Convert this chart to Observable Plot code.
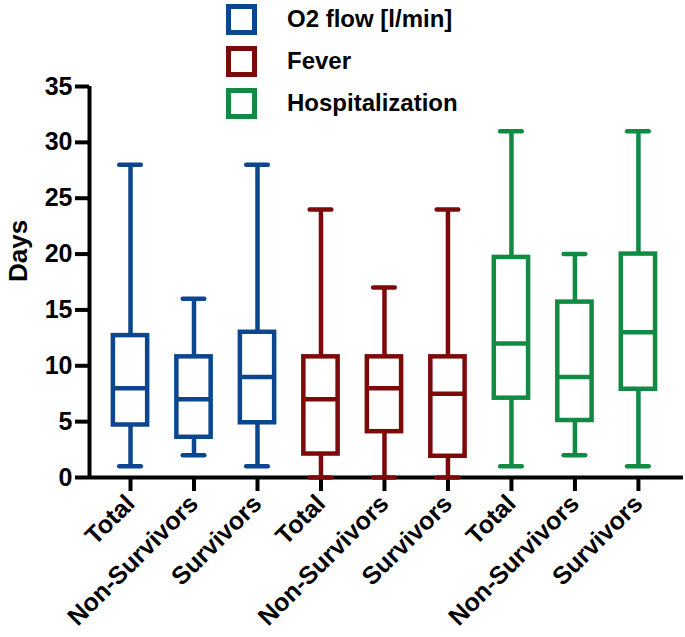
<!DOCTYPE html>
<html><head><meta charset="utf-8">
<script src="https://cdn.jsdelivr.net/npm/d3@7"></script>
<script src="https://cdn.jsdelivr.net/npm/@observablehq/plot@0.6"></script>
<style>
body{margin:0;background:#fff;font-family:"Liberation Sans",Arial,sans-serif;}
#wrap{position:relative;width:685px;height:637px;}
#legend{position:absolute;left:226px;top:-2px;z-index:2;}
.row{display:flex;align-items:center;height:42px;font-weight:bold;font-size:24px;color:#000;}
.sw{width:21px;height:21px;border:5px solid;margin-right:30px;box-sizing:content-box;}
svg{display:block;}
</style></head><body><div id="wrap"><div id="legend"></div><div id="chart"></div></div>
<script>
// Data
const series = ["O2 flow [l/min]", "Fever", "Hospitalization"];
const seriesColors = ["#0b468f", "#7d0a0a", "#118a44"];
const labels = ["Total", "Non-Survivors", "Survivors", "Total", "Non-Survivors", "Survivors", "Total", "Non-Survivors", "Survivors"];
const groups = ["O2 flow [l/min]", "O2 flow [l/min]", "O2 flow [l/min]", "Fever", "Fever", "Fever", "Hospitalization", "Hospitalization", "Hospitalization"];
const mins    = [1, 2, 1, 0, 0, 0, 1, 2, 1];
const q1s     = [4.7, 3.6, 4.9, 2.1, 4.1, 1.9, 7.1, 5.1, 7.9];
const medians = [8, 7, 9, 7, 8, 7.5, 12, 9, 13];
const q3s     = [12.7, 10.8, 13.0, 10.8, 10.8, 10.8, 19.7, 15.7, 20];
const maxs    = [28, 16, 28, 24, 17, 24, 31, 20, 31];
const yTicks  = [0, 5, 10, 15, 20, 25, 30, 35];
const yLabel  = "Days";

const boxes = labels.map((label, i) => ({
  i, label, group: groups[i], min: mins[i], q1: q1s[i], median: medians[i], q3: q3s[i], max: maxs[i]
}));

const xMin = -0.646, xMax = 8.71;
const halfBox = 0.27, halfCap = 0.17;

const chart = Plot.plot({
  width: 685, height: 637,
  marginLeft: 89, marginRight: 2, marginTop: 86, marginBottom: 160,
  style: {fontFamily: '"Liberation Sans", Arial, sans-serif', fontWeight: "bold", color: "#000", background: "#fff"},
  x: {type: "linear", domain: [xMin, xMax], axis: null},
  y: {domain: [0, 35], axis: null},
  color: {type: "ordinal", domain: series, range: seriesColors},
  marks: [
    Plot.axisY({ticks: yTicks, tickSize: 14, tickPadding: 3, strokeWidth: 4, fontSize: 25, label: null}),
    Plot.text([yLabel], {frameAnchor: "left", rotate: -90, dx: -71, fontSize: 26, fontWeight: "bold", fill: "#000"}),
    Plot.axisX({ticks: d3.range(labels.length), tickFormat: i => labels[i], tickSize: 14, tickPadding: 8, tickRotate: -45, strokeWidth: 4, fontSize: 25, label: null}),
    Plot.ruleX([xMin], {y1: 0, y2: 35, strokeWidth: 4, stroke: "#000"}),
    Plot.ruleY([0], {strokeWidth: 4, stroke: "#000"}),
    Plot.ruleX(boxes, {x: "i", y1: "min", y2: "q1", stroke: "group", strokeWidth: 4.5}),
    Plot.ruleX(boxes, {x: "i", y1: "q3", y2: "max", stroke: "group", strokeWidth: 4.5}),
    Plot.rect(boxes, {x1: d => d.i - halfBox, x2: d => d.i + halfBox, y1: "q1", y2: "q3", fill: "none", stroke: "group", strokeWidth: 4.5}),
    Plot.ruleY(boxes, {y: "median", x1: d => d.i - halfBox, x2: d => d.i + halfBox, stroke: "group", strokeWidth: 4.5}),
    Plot.ruleY(boxes, {y: "min", x1: d => d.i - halfCap, x2: d => d.i + halfCap, stroke: "group", strokeWidth: 4.5, strokeLinecap: "round"}),
    Plot.ruleY(boxes, {y: "max", x1: d => d.i - halfCap, x2: d => d.i + halfCap, stroke: "group", strokeWidth: 4.5, strokeLinecap: "round"})
  ]
});
document.getElementById("chart").appendChild(chart);

const legend = document.getElementById("legend");
series.forEach((s, k) => {
  const row = document.createElement("div");
  row.className = "row";
  const sw = document.createElement("div");
  sw.className = "sw";
  sw.style.borderColor = seriesColors[k];
  const t = document.createElement("span");
  t.textContent = s;
  row.appendChild(sw); row.appendChild(t);
  legend.appendChild(row);
});
</script></body></html>
